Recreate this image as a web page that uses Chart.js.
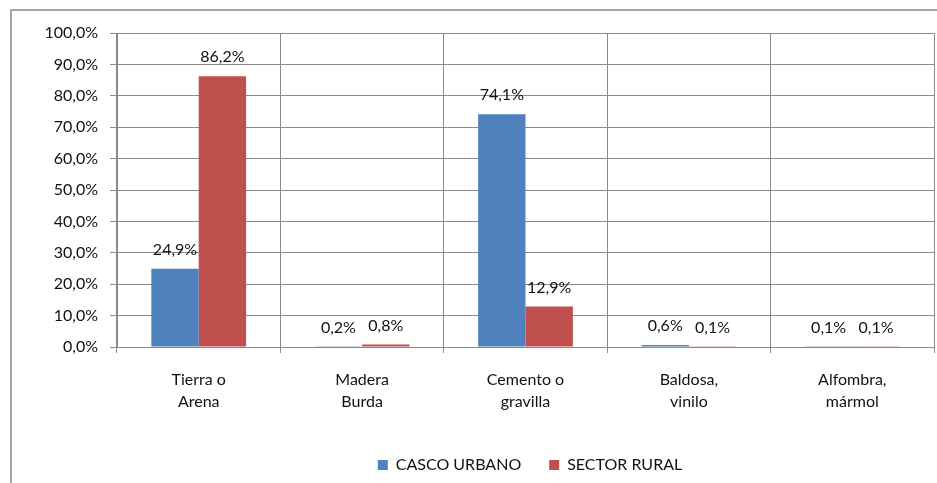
<!DOCTYPE html>
<html>
<head>
<meta charset="utf-8">
<script src="https://cdn.jsdelivr.net/npm/chart.js@4/dist/chart.umd.min.js"></script>
<style>
  body { margin: 0; background: #fff; overflow: hidden; }
  #frame { position: absolute; left: 10px; top: 9px; width: 940px; height: 490px;
           border-left: 2px solid #a6a6a6; border-top: 2px solid #a6a6a6; }
  #wrap { position: absolute; left: 0; top: 0; width: 937px; height: 483px; }
</style>
</head>
<body>
<div id="frame"></div>
<div id="wrap"><canvas id="chart" width="937" height="483"></canvas></div>
<script>
// Floor type by sector (percent)
const categories = [["Tierra o", "Arena"], ["Madera", "Burda"], ["Cemento o", "gravilla"], ["Baldosa,", "vinilo"], ["Alfombra,", "mármol"]];
const cascoUrbano = [24.9, 0.2, 74.1, 0.6, 0.1];
const sectorRural = [86.2, 0.8, 12.9, 0.1, 0.1];
const seriesNames = ["CASCO URBANO", "SECTOR RURAL"];
const yTicks = [0, 10, 20, 30, 40, 50, 60, 70, 80, 90, 100];

const FONT = "Lato, 'Open Sans', sans-serif";
const GRID = "#8a8a8a";

function pct(v) {
  return v.toFixed(1).replace(".", ",") + "%";
}

// Draws the value label above each bar
const barLabels = {
  id: "barLabels",
  afterDatasetsDraw(chart) {
    const ctx = chart.ctx;
    ctx.save();
    ctx.font = "16px " + FONT;
    ctx.fillStyle = "#111";
    ctx.textAlign = "center";
    ctx.textBaseline = "middle";
    chart.data.datasets.forEach((ds, i) => {
      chart.getDatasetMeta(i).data.forEach((bar, j) => {
        ctx.fillText(pct(ds.data[j]), bar.x, bar.y - 19);
      });
    });
    ctx.restore();
  }
};

// The original legend is centred on a wider frame, so push it right
const shiftLegend = {
  id: "shiftLegend",
  beforeDraw(chart) {
    chart.legend.left = 126;
  }
};

new Chart(document.getElementById("chart"), {
  type: "bar",
  data: {
    labels: categories,
    datasets: [
      { label: seriesNames[0], data: cascoUrbano, backgroundColor: "#4F81BD" },
      { label: seriesNames[1], data: sectorRural, backgroundColor: "#C0504D" }
    ]
  },
  options: {
    responsive: false,
    animation: false,
    categoryPercentage: 0.58,
    barPercentage: 1,
    layout: { padding: { top: 33, right: 3, left: 0, bottom: 0 } },
    plugins: {
      tooltip: { enabled: false },
      legend: {
        position: "bottom",
        labels: { boxWidth: 10, boxHeight: 10, padding: 28, color: "#111", font: { family: FONT, size: 16 } }
      }
    },
    scales: {
      x: {
        grid: { offset: true, color: GRID, tickLength: 6, lineWidth: 1 },
        border: { color: GRID },
        ticks: { color: "#111", padding: 16, maxRotation: 0, font: { family: FONT, size: 16, lineHeight: 1.375 } },
        afterFit(scale) { scale.height = 82; }
      },
      y: {
        min: 0,
        max: 100,
        afterBuildTicks(scale) { scale.ticks = yTicks.map(v => ({ value: v })); },
        grid: { color: GRID, tickLength: 7, lineWidth: 1 },
        border: { color: GRID },
        ticks: { color: "#111", padding: 12, callback: v => pct(v), font: { family: FONT, size: 16 } },
        afterFit(scale) { scale.width = 117; }
      }
    }
  },
  plugins: [barLabels, shiftLegend]
});
</script>
</body>
</html>
